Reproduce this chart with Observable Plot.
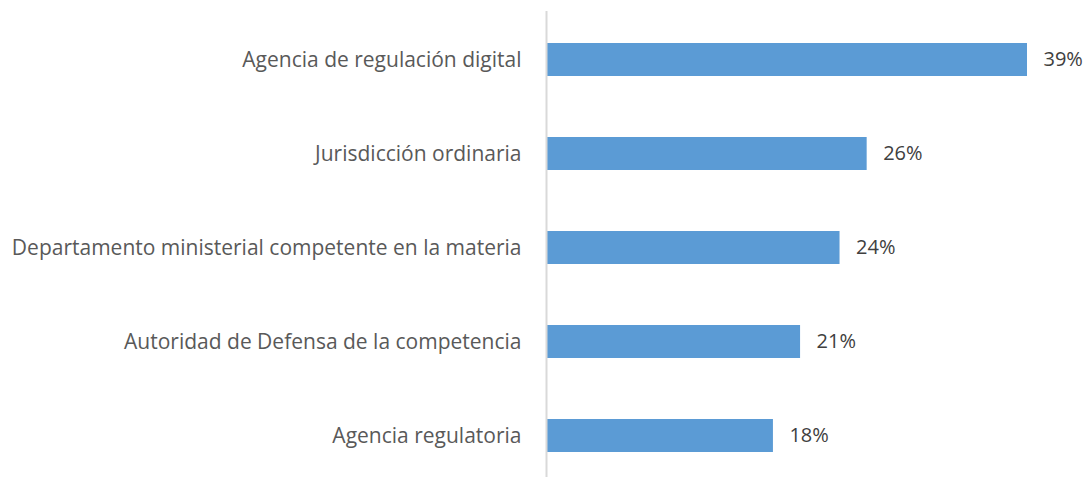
<!DOCTYPE html>
<html>
<head>
<meta charset="utf-8">
<script src="https://cdn.jsdelivr.net/npm/d3@7"></script>
<script src="https://cdn.jsdelivr.net/npm/@observablehq/plot@0.6"></script>
<style>
  html, body { margin: 0; padding: 0; background: #fff; }
  #chart svg { display: block; }
</style>
</head>
<body>
<div id="chart"></div>
<script>
const categories = [
  "Agencia de regulación digital",
  "Jurisdicción ordinaria",
  "Departamento ministerial competente en la materia",
  "Autoridad de Defensa de la competencia",
  "Agencia regulatoria"
];
const values = [0.39, 0.26, 0.238, 0.206, 0.184];
const valueLabels = ["39%", "26%", "24%", "21%", "18%"];

const data = categories.map((c, i) => ({category: c, value: values[i], label: valueLabels[i]}));

const chart = Plot.plot({
  width: 1088,
  height: 477,
  marginLeft: 546,
  marginRight: 61,
  marginTop: 11,
  marginBottom: 0,
  style: {fontFamily: "'Open Sans', sans-serif", fontSize: "21px", color: "#595959", background: "#fff"},
  x: {domain: [0, 0.39], axis: null},
  y: {domain: categories, paddingInner: 0.647, paddingOuter: 0.292, align: 0.557, label: null, tickSize: 0, tickPadding: 25},
  marks: [
    Plot.barX(data, {x: "value", y: "category", fill: "#5b9bd5"}),
    Plot.ruleX([0], {stroke: "#d9d9d9", strokeWidth: 2}),
    Plot.text(data, {x: "value", y: "category", text: "label", textAnchor: "start", dx: 16, fill: "#404040", fontSize: 20}),
    Plot.axisY({tickSize: 0, tickPadding: 25, label: null, fill: "#595959", fontSize: 21})
  ]
});
document.getElementById("chart").appendChild(chart);
</script>
</body>
</html>
